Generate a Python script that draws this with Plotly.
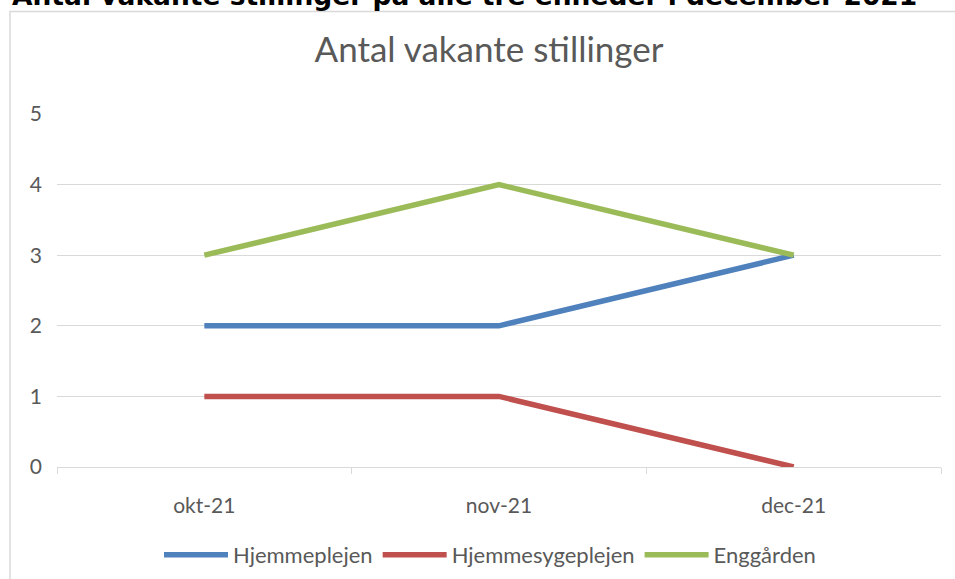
import plotly.graph_objects as go

months = ["okt-21", "nov-21", "dec-21"]
hjemmeplejen = [2, 2, 3]
hjemmesygeplejen = [1, 1, 0]
enggaarden = [3, 4, 3]
y_ticks = [0, 1, 2, 3, 4, 5]

series = [
    ("Hjemmeplejen", hjemmeplejen, "#4F81BD"),
    ("Hjemmesygeplejen", hjemmesygeplejen, "#C0504D"),
    ("Enggården", enggaarden, "#9BBB59"),
]

fig = go.Figure()
for name, vals, col in series:
    fig.add_trace(go.Scatter(x=months, y=vals, name=name, mode="lines",
                             line=dict(color=col, width=5.5)))

L, R, T, B = 57, 14, 114, 112
W, H = 955, 579
pw, ph = W - L - R, H - T - B

def px(x):
    return (x - L) / pw

def py(y):
    return (H - B - y) / ph

fig.update_layout(
    width=W, height=H,
    margin=dict(l=L, r=R, t=T, b=B, pad=0, autoexpand=False),
    paper_bgcolor="white", plot_bgcolor="white",
    font=dict(family="Lato", color="#595959", size=21),
    title=dict(text="Antal vakante stillinger", x=489 / W, xref="container", xanchor="center",
               y=1 - 50 / H, yref="container", yanchor="middle",
               font=dict(size=35, color="#595959", family="Lato")),
    xaxis=dict(type="category", tickson="boundaries", ticks="outside", ticklen=6,
               tickcolor="#d9d9d9", showgrid=False, showline=True, linecolor="#d9d9d9",
               linewidth=1, range=[-0.5, 2.5], ticklabelstandoff=20, zeroline=False),
    yaxis=dict(range=[0, 5], tickvals=y_ticks, showgrid=True, gridcolor="#d9d9d9",
               gridwidth=1, zeroline=False, ticks="", ticklabelstandoff=14, showline=False),
    legend=dict(orientation="h", x=490 / W, xanchor="center", xref="container", yref="container",
                y=1 - 555 / H, yanchor="middle", itemwidth=64, font=dict(size=22),
                bgcolor="rgba(0,0,0,0)"),
    showlegend=True,
)

fig.add_shape(type="rect", xref="paper", yref="paper",
              x0=px(10), x1=px(1000), y0=py(640), y1=py(11.5),
              line=dict(color="#d9d9d9", width=1.5), fillcolor="rgba(0,0,0,0)", layer="below")

fig.add_annotation(text="<b>Antal vakante stillinger på alle tre enheder i december 2021</b>",
                   xref="paper", yref="paper", x=px(10), y=py(13), xanchor="left",
                   yanchor="bottom", showarrow=False,
                   font=dict(family="DejaVu Sans", size=26.5, color="black"))

fig.write_html("out.html", config={"displayModeBar": False},
               post_script="document.body.style.margin='0';document.body.style.overflow='hidden';")
